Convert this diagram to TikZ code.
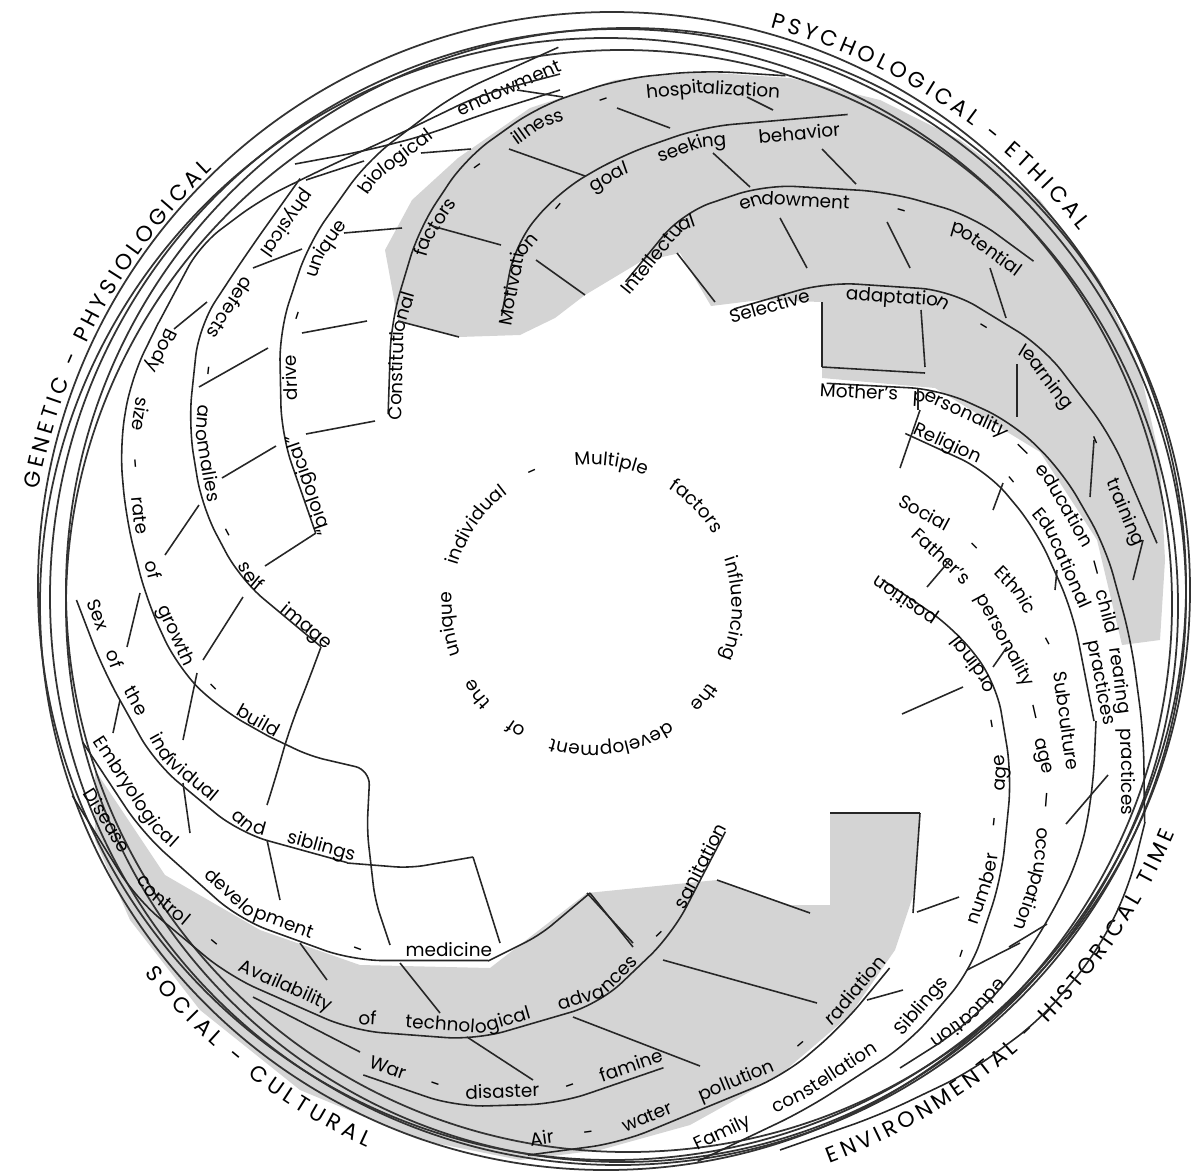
\documentclass[tikz,border=0pt]{standalone}
\usepackage{fontspec}
\setmainfont{Poppins}
\usetikzlibrary{decorations.text}

\newcommand{\bandfont}{\fontsize{10.5}{12}\selectfont}
\newcommand{\rimfont}{\fontsize{12.5}{15}\selectfont}

% text along a broken line #3; #1 = scale of its rule about the centre (empty: no rule)
\newcommand{\band}[3]{%
  \ifx\relax#1\relax\else
    \draw[bandline, rounded corners=0.6cm, scale around={#1:(610,-600)}] #3;
  \fi
  \path[decorate, decoration={text along path, raise=-3.5pt,
      text align={fit to path stretching spaces}, text={|\bandfont|#2}}] #3;}

% text round the rim, from angle #1 to angle #2
\newcommand{\rimtext}[3]{%
  \path[decorate, decoration={text along path, raise=-4.4pt,
      text align={fit to path}, text={|\rimfont|#3}}]
    (618,-597) ++(#1:597) arc[start angle=#1, end angle=#2, radius=597];}

\begin{document}
\begin{tikzpicture}[
    x=0.02cm, y=0.02cm,
    bandline/.style={draw=black!85, line width=0.9pt},
    tick/.style={draw=black!85, line width=0.9pt},
    rim/.style={draw=black!80, line width=1pt},
    shade/.style={fill=black!17},
]
\useasboundingbox (0,0) rectangle (1199,-1173);

% === SHADED BANDS ===
\fill[shade] (398,-321) -- (385,-250) -- (412,-200) -- (458,-158) -- (530,-108)
  -- (615,-80) -- (700,-72) -- (790,-78) -- (880,-100) -- (960,-140) -- (1040,-200)
  -- (1100,-280) -- (1140,-370) -- (1160,-460) -- (1165,-560) -- (1160,-640)
  -- (1122,-645) -- (1097,-540) -- (1040,-452) -- (935,-388) -- (822,-378)
  -- (822,-302) -- (760,-300) -- (711,-306) -- (680,-253) -- (640,-262)
  -- (585,-295) -- (555,-318) -- (520,-335) -- (459,-337) -- cycle;
\fill[shade] (95,-770) -- (165,-875) -- (260,-930) -- (360,-965) -- (490,-968)
  -- (587,-893) -- (717,-880) -- (790,-905) -- (830,-905) -- (830,-813)
  -- (920,-813) -- (915,-890) -- (895,-950) -- (850,-1015) -- (780,-1075)
  -- (690,-1125) -- (600,-1150) -- (520,-1160) -- (420,-1140) -- (300,-1090)
  -- (200,-1010) -- (130,-920) -- (95,-840) -- cycle;

% === RIM CIRCLES ===
\foreach \cx/\cy/\rr in {618/597/568, 606/604/566, 628/590/562, 612/586/574, 622/606/556}
  \draw[rim] (\cx,-\cy) circle[radius=\rr];

% === RIM LABELS ===
\rimtext{169.5}{133.5}{GENETIC - PHYSIOLOGICAL}
\rimtext{75}{38.5}{PSYCHOLOGICAL - ETHICAL}
\rimtext{-69.5}{-23}{ENVIRONMENTAL - HISTORICAL TIME}
\rimtext{-141.5}{-114.5}{SOCIAL - CULTURAL}

% === BANDS ===
% genetic - physiological
\band{1.03}{Body size - rate of growth - build}
  {(172,-330) -- (145,-385) -- (134,-450) -- (140,-520) -- (160,-600) -- (190,-665) -- (230,-705) -- (278,-732)}
\band{1.033}{physical defects - anomalies - self image}
  {(310,-192) -- (258,-265) -- (212,-335) -- (202,-430) -- (215,-510) -- (252,-580) -- (330,-645)}
\band{1.033}{“biological” drive - unique biological endowment}
  {(325,-535) -- (292,-440) -- (290,-340) -- (318,-255) -- (375,-175) -- (460,-110) -- (560,-65)}
\band{1.032}{Constitutional factors - illness - hospitalization}
  {(395,-420) -- (398,-330) -- (425,-240) -- (470,-172) -- (540,-122) -- (620,-95) -- (700,-87) -- (780,-92)}
% psychological - ethical
\band{1.033}{Motivation - goal seeking behavior}
  {(505,-325) -- (518,-255) -- (560,-205) -- (620,-170) -- (700,-142) -- (840,-130)}
\band{1.033}{Intellectual endowment - potential}
  {(625,-292) -- (680,-225) -- (760,-198) -- (880,-205) -- (960,-228) -- (1020,-272)}
\band{1.032}{Selective adaptation - learning - training}
  {(730,-318) -- (820,-292) -- (940,-300) -- (1030,-355) -- (1095,-440) -- (1140,-545)}
\band{1.032}{Mother's personality — education — child rearing practices}
  {(820,-390) -- (930,-396) -- (1000,-428) -- (1048,-475) -- (1090,-548) -- (1115,-640) -- (1127,-730) -- (1128,-815)}
% environmental - historical time
\band{0.968}{Religion - Educational practices}
  {(915,-428) -- (1000,-467) -- (1050,-527) -- (1088,-612) -- (1110,-725)}
\band{}{Social - Ethnic - Subculture}
  {(900,-500) -- (960,-532) -- (1020,-592) -- (1058,-662) -- (1073,-770)}
\band{}{Father's personality — age — occupation}
  {(915,-532) -- (980,-592) -- (1028,-682) -- (1048,-770) -- (1040,-870) -- (1020,-930)}
\path[decorate, decoration={text along path, raise=-3.5pt,
    text align=center, text={|\bandfont|education}}]
  (1012,-972) -- (970,-1018) -- (922,-1052);
\band{1.03}{Family constellation Siblings - number - age - ordinal position}
  {(695,-1145) -- (800,-1095) -- (900,-1030) -- (960,-960) -- (990,-870) -- (1000,-770) -- (985,-680) -- (945,-628) -- (874,-580)}
% social - cultural
\band{1.03}{Sex of the individual and siblings}
  {(92,-600) -- (118,-668) -- (168,-758) -- (250,-826) -- (355,-855)}
\band{1.03}{Embryological development - medicine}
  {(98,-738) -- (156,-826) -- (250,-910) -- (360,-950) -- (492,-950)}
\band{1.03}{Disease control - Availability of technological advances - sanitation}
  {(88,-790) -- (150,-890) -- (240,-965) -- (360,-1018) -- (480,-1027) -- (600,-992) -- (670,-925) -- (722,-825)}
\band{1.028}{War - disaster - famine}
  {(370,-1062) -- (460,-1093) -- (560,-1090) -- (662,-1055)}
\band{1.028}{Air - water pollution - radiation}
  {(530,-1140) -- (620,-1128) -- (700,-1095) -- (780,-1062) -- (835,-1015) -- (882,-958)}

% === RULES running on past the texts ===
\draw[bandline, rounded corners=0.5cm] (159,-322) -- (200,-245) -- (260,-200) -- (327,-167)
  -- (393,-137) -- (480,-95) -- (560,-74);
\draw[bandline, rounded corners=0.3cm] (268,-736) -- (310,-756) -- (370,-770) -- (367,-830)
  -- (375,-900) -- (390,-945);
\draw[bandline, rounded corners=0.5cm] (295,-164) -- (360,-152) -- (427,-135) -- (480,-115) -- (560,-90);
\draw[bandline, rounded corners=0.5cm] (321,-647) -- (305,-690) -- (290,-727) -- (275,-780) -- (267,-805);
\draw[bandline, rounded corners=0.6cm] (1145,-822) -- (1128,-890) -- (1095,-955) -- (1040,-1020)
  -- (970,-1072) -- (880,-1115) -- (780,-1150);
\draw[bandline, rounded corners=0.6cm] (1096,-721) -- (1093,-790) -- (1080,-857) -- (1047,-923)
  -- (1007,-983) -- (960,-1030) -- (900,-1068);
\draw[bandline, rounded corners=0.3cm] (347,-863) -- (410,-868) -- (473,-857);
\draw[bandline, rounded corners=0.3cm] (488,-961) -- (540,-935) -- (590,-893);

% === TICKS between bands ===
\foreach \a/\b/\c/\d in {
    174/329/207/302, 253/268/302/249, 306/180/364/161, 199/387/268/348,
    222/478/276/446, 165/555/199/505, 302/333/367/321, 306/434/375/421,
    344/233/402/228, 421/153/471/149, 398/321/459/337, 432/226/501/245,
    509/149/585/176, 536/260/585/295, 517/90/563/97, 617/108/670/128,
    713/153/750/187, 747/97/773/110, 822/149/856/184, 677/253/715/302,
    780/218/807/268, 887/222/910/268, 990/268/1006/318, 822/302/822/367,
    822/367/925/373, 921/310/925/367, 1017/364/1017/417, 1094/440/1090/497,
    918/388/918/410, 900/468/920/410, 1003/483/993/510, 1057/570/1055/590,
    927/587/950/560, 1007/647/993/667, 1143/540/1133/580, 902/714/963/687,
    959/897/917/912, 1108/775/1066/824, 1047/924/1009/947, 967/970/1020/943,
    830/813/920/813, 920/813/913/913, 587/893/633/943, 663/960/817/1003,
    867/1000/903/990, 573/1017/700/1066, 267/840/280/900, 473/857/500/943,
    590/893/633/947, 300/943/327/980, 400/963/440/1013, 253/997/360/1052,
    467/1037/533/1080, 717/880/810/913, 316/533/265/566, 140/593/127/647,
    120/700/113/733, 243/597/203/660, 197/673/183/740, 183/783/190/833}
  \draw[tick] (\a,-\b) -- (\c,-\d);

% === CENTRE ===
\path[decorate, decoration={text along path, text align={fit to path stretching spaces},
    text={|\bandfont|Multiple factors influencing the development of the unique individual -}}]
  (592,-605) ++(97:140) arc[start angle=97, end angle=-248, radius=140];

\end{tikzpicture}
\end{document}
